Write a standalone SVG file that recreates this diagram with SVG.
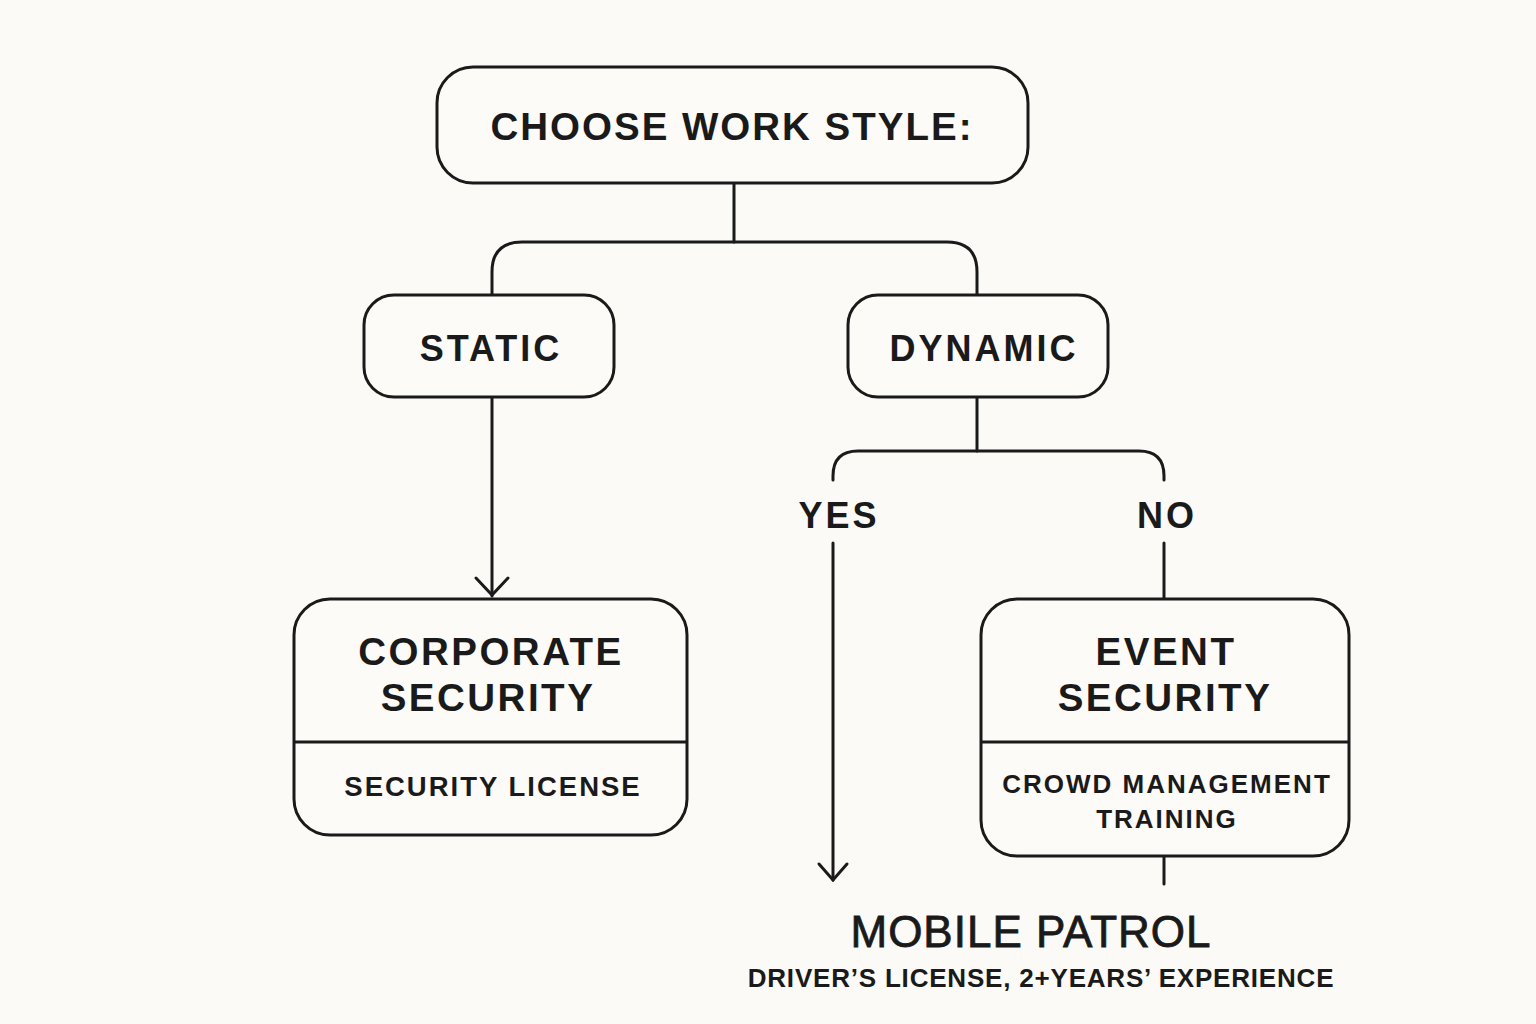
<svg xmlns="http://www.w3.org/2000/svg" width="1536" height="1024" viewBox="0 0 1536 1024">
<style>
.box{fill:#fcfbf8;stroke:#1a1a1a;stroke-width:3}
.ln{fill:none;stroke:#1a1a1a;stroke-width:3;stroke-linecap:round}
.t{font-family:"Liberation Sans",Arial,sans-serif;font-weight:bold;fill:#1a1a1a;text-anchor:middle;letter-spacing:2px}
.h{font-size:36px;letter-spacing:3px}
.ti{font-size:38.5px;letter-spacing:2.5px}
</style>
<rect width="1536" height="1024" fill="#fbfaf6"/>
<g id="connectors">
<path class="ln" d="M734 183 V242"/>
<path class="ln" d="M492 295 V272 Q492 242 522 242 H947 Q977 242 977 272 V295"/>
<path class="ln" d="M492 397 V596"/>
<path class="ln" d="M476 578 L492 595 L508 578"/>
<path class="ln" d="M977 397 V451"/>
<path class="ln" d="M833 480 V476 Q833 451 858 451 H1139 Q1164 451 1164 476 V480"/>
<path class="ln" d="M833 543 V880"/>
<path class="ln" d="M819 864 L833 880 L847 864"/>
<path class="ln" d="M1164 543 V599"/>
<path class="ln" d="M1164 856 V884"/>
</g>
<g id="choose">
<rect class="box" x="437" y="67" width="591" height="116" rx="36"/>
<text class="t" x="732" y="140" font-size="38.5">CHOOSE WORK STYLE:</text>
</g>
<g id="static">
<rect class="box" x="364" y="295" width="250" height="102" rx="30"/>
<text class="t h" x="491" y="361">STATIC</text>
</g>
<g id="dynamic">
<rect class="box" x="848" y="295" width="260" height="102" rx="30"/>
<text class="t h" x="984" y="361">DYNAMIC</text>
</g>
<g id="yes"><text class="t h" x="839" y="528">YES</text></g>
<g id="no"><text class="t h" x="1167" y="528">NO</text></g>
<g id="corporate">
<rect class="box" x="294" y="599" width="393" height="236" rx="36"/>
<path class="ln" d="M294 742 H687" style="stroke-linecap:butt"/>
<text class="t ti" x="491" y="665">CORPORATE</text>
<text class="t ti" x="488" y="711">SECURITY</text>
<text class="t" x="493" y="796" font-size="27.5">SECURITY LICENSE</text>
</g>
<g id="event">
<rect class="box" x="981" y="599" width="368" height="257" rx="36"/>
<path class="ln" d="M981 742 H1349" style="stroke-linecap:butt"/>
<text class="t ti" x="1166" y="665">EVENT</text>
<text class="t ti" x="1165" y="711">SECURITY</text>
<text class="t" x="1167" y="793" font-size="26">CROWD MANAGEMENT</text>
<text class="t" x="1167" y="828" font-size="26">TRAINING</text>
</g>
<g id="mobile">
<text class="t" x="1031" y="947" font-size="44" style="font-weight:normal;letter-spacing:1px;stroke:#1a1a1a;stroke-width:0.8">MOBILE PATROL</text>
<text class="t" x="1041" y="987" font-size="26" style="letter-spacing:0.8px">DRIVER’S LICENSE, 2+YEARS’ EXPERIENCE</text>
</g>
</svg>
